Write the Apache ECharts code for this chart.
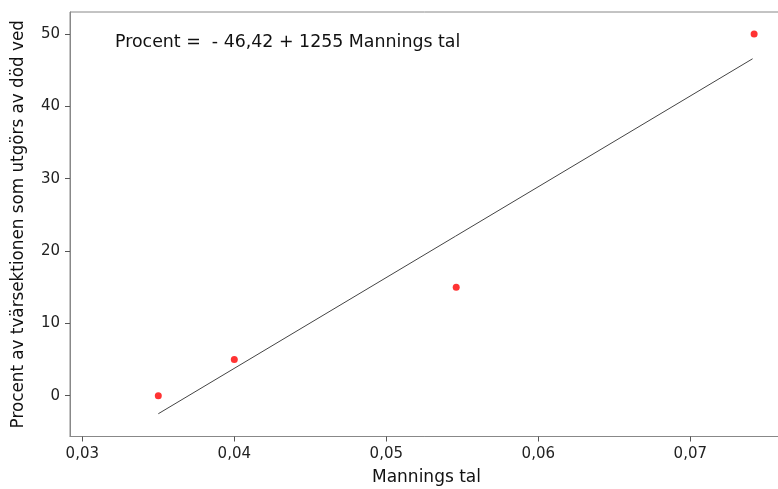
<!DOCTYPE html>
<html><head><meta charset="utf-8">
<script src="https://cdn.jsdelivr.net/npm/echarts@6/dist/echarts.min.js"></script>
<style>html,body{margin:0;padding:0;background:#fff}#c{width:778px;height:489px}</style>
</head><body><div id="c"></div>
<script>
const xValues = [0.035, 0.040, 0.0546, 0.0742];
const yValues = [0, 5, 15, 50];
const xTicks = [0.03, 0.04, 0.05, 0.06, 0.07];
const yTicks = [0, 10, 20, 30, 40, 50];
const fitIntercept = -46.42;
const fitSlope = 1255;
const fitRange = [0.035, 0.0741];
const equationText = 'Procent =  - 46,42 + 1255 Mannings tal';
const xName = 'Mannings tal';
const yName = 'Procent av tvärsektionen som utgörs av död ved';

const font = 'DejaVu Sans';
const chart = echarts.init(document.getElementById('c'));
const fitLine = fitRange.map(x => [x, fitIntercept + fitSlope * x]);
chart.setOption({
  animation: false,
  grid: {left: 70, top: 12, right: -5, bottom: 52.5, outerBoundsMode: 'none', containLabel: false,
    show: true, borderColor: '#888', borderWidth: 1},
  xAxis: {
    type: 'value', min: 0.02919, max: 0.07610,
    name: xName, nameLocation: 'middle', nameGap: 33,
    nameTextStyle: {fontFamily: font, fontSize: 17, color: '#111'},
    axisLine: {show: true, onZero: false, lineStyle: {color: '#888'}},
    axisTick: {show: true, length: 5, lineStyle: {color: '#555'}, customValues: xTicks},
    axisLabel: {fontFamily: font, fontSize: 15, color: '#222', margin: 10, customValues: xTicks,
      formatter: v => v.toFixed(2).replace('.', ',')},
    splitLine: {show: false}
  },
  yAxis: {
    type: 'value', min: -5.64, max: 53.04,
    name: yName, nameLocation: 'middle', nameGap: 43,
    nameTextStyle: {fontFamily: font, fontSize: 16.8, color: '#111'},
    axisLine: {show: true, onZero: false, lineStyle: {color: '#888'}},
    axisTick: {show: true, length: 5, lineStyle: {color: '#555'}, customValues: yTicks},
    axisLabel: {fontFamily: font, fontSize: 15, color: '#222', margin: 10, customValues: yTicks},
    splitLine: {show: false}
  },
  graphic: [{type: 'text', left: 115, top: 34, style: {text: equationText, font: '17.4px "DejaVu Sans"', fill: '#111'}}],
  series: [
    {type: 'line', data: fitLine, symbol: 'none', lineStyle: {color: '#444', width: 1}, silent: true},
    {type: 'scatter', data: xValues.map((x, i) => [x, yValues[i]]), symbolSize: 7, itemStyle: {color: '#ff0000'}}
  ]
});
</script></body></html>
